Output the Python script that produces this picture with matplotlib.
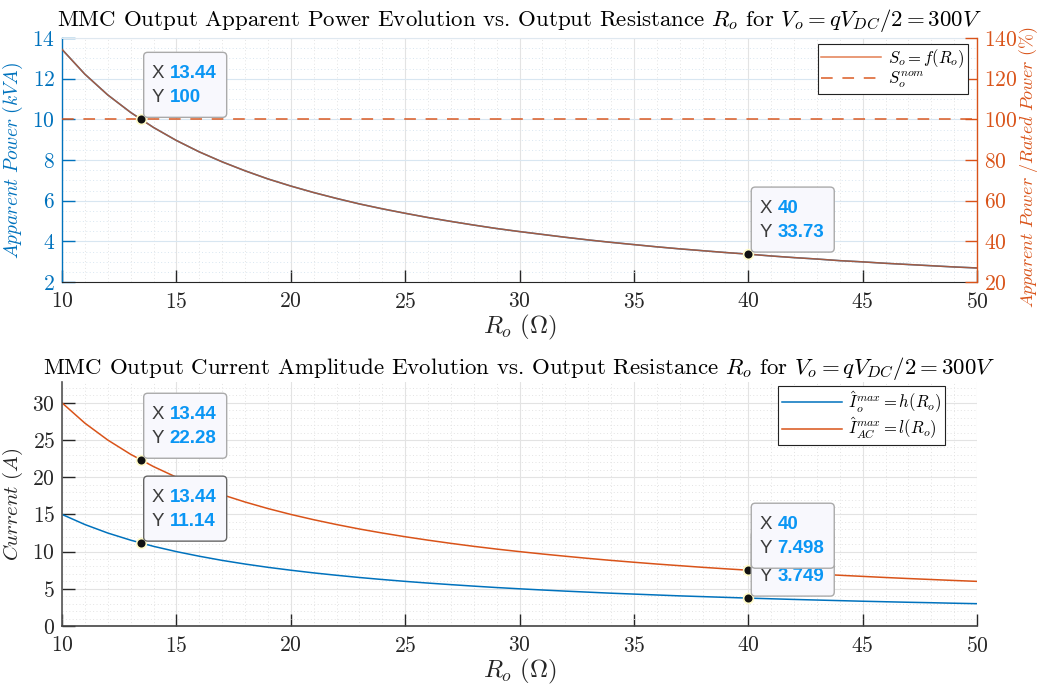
import matplotlib
matplotlib.use("Agg")
import matplotlib.pyplot as plt
from matplotlib.patches import FancyBboxPatch
from matplotlib.ticker import MultipleLocator
from matplotlib.transforms import IdentityTransform
import numpy as np

plt.rcParams['font.family'] = 'serif'
plt.rcParams['font.serif'] = ['cmr10']
plt.rcParams['mathtext.fontset'] = 'cm'
plt.rcParams['axes.formatter.use_mathtext'] = True
plt.rcParams['axes.unicode_minus'] = False

# ---------------- data ----------------
R_o = [10, 11, 12, 13, 14, 15, 16, 17, 18, 19, 20, 21, 22, 23, 24, 25, 26, 27, 28, 29,
       30, 31, 32, 33, 34, 35, 36, 37, 38, 39, 40, 41, 42, 43, 44, 45, 46, 47, 48, 49, 50]

S_kva = [13.44, 12.22, 11.20, 10.34, 9.60, 8.96, 8.40, 7.91, 7.47, 7.07, 6.72, 6.40, 6.11,
         5.84, 5.60, 5.38, 5.17, 4.98, 4.80, 4.63, 4.48, 4.34, 4.20, 4.07, 3.95, 3.84, 3.73,
         3.63, 3.54, 3.45, 3.37, 3.28, 3.20, 3.13, 3.05, 2.99, 2.92, 2.86, 2.80, 2.74, 2.69]

S_pct = [134.4, 122.2, 112.0, 103.4, 96.0, 89.6, 84.0, 79.1, 74.7, 70.7, 67.2, 64.0, 61.1,
         58.4, 56.0, 53.8, 51.7, 49.8, 48.0, 46.3, 44.8, 43.4, 42.0, 40.7, 39.5, 38.4, 37.3,
         36.3, 35.4, 34.5, 33.7, 32.8, 32.0, 31.3, 30.5, 29.9, 29.2, 28.6, 28.0, 27.4, 26.9]

S_nom_pct = 100

I_o = [15.00, 13.64, 12.50, 11.54, 10.71, 10.00, 9.38, 8.82, 8.33, 7.89, 7.50, 7.14, 6.82,
       6.52, 6.25, 6.00, 5.77, 5.56, 5.36, 5.17, 5.00, 4.84, 4.69, 4.55, 4.41, 4.29, 4.17,
       4.05, 3.95, 3.85, 3.75, 3.66, 3.57, 3.49, 3.41, 3.33, 3.26, 3.19, 3.13, 3.06, 3.00]

I_AC = [30.00, 27.27, 25.00, 23.08, 21.43, 20.00, 18.75, 17.65, 16.67, 15.79, 15.00, 14.29,
        13.64, 13.04, 12.50, 12.00, 11.54, 11.11, 10.71, 10.34, 10.00, 9.68, 9.38, 9.09,
        8.82, 8.57, 8.33, 8.11, 7.89, 7.69, 7.50, 7.32, 7.14, 6.98, 6.82, 6.67, 6.52, 6.38,
        6.25, 6.12, 6.00]

# data tips
tip_top_x = [13.44, 40]
tip_top_y = [100, 33.73]
tip_top_lbl = ["100", "33.73"]
tip_bot_x = [13.44, 13.44, 40, 40]
tip_bot_y = [22.28, 11.14, 3.749, 7.498]
tip_bot_lbl = ["22.28", "11.14", "3.749", "7.498"]

title_top = r'MMC Output Apparent Power Evolution vs. Output Resistance $R_o$ for $V_o = qV_{DC}/2 = 300V$'
title_bot = r'MMC Output Current Amplitude Evolution vs. Output Resistance $R_o$ for $V_o = qV_{DC}/2 = 300V$'

BLUE = '#0072BD'
ORANGE = '#D95319'
DARK = '#262626'
TIPBLUE = '#0a96f4'

W, H = 1038, 693
fig = plt.figure(figsize=(W / 100, H / 100), dpi=100)

def frac(l, t, r, b):
    return [l / W, 1 - b / H, (r - l) / W, (b - t) / H]

def style_grid(ax, xcol, ycol):
    ax.set_axisbelow(True)
    ax.xaxis.grid(True, which='major', color=xcol, lw=0.8, alpha=1)
    ax.yaxis.grid(True, which='major', color=ycol, lw=0.8, alpha=1)
    ax.xaxis.grid(True, which='minor', color=xcol, lw=0.7, ls=(0, (1, 2.5)))
    ax.yaxis.grid(True, which='minor', color=ycol, lw=0.7, ls=(0, (1, 2.5)))

TICK_FS = 15.5
TITLE_FS = 16.5

# ---------------- top axes ----------------
ax1 = fig.add_axes(frac(62, 38, 977, 282))
ax1.plot(R_o, S_kva, color=BLUE, lw=1.1)
ax1.set_xlim(10, 50)
ax1.set_ylim(2, 14)
ax1.xaxis.set_major_locator(MultipleLocator(5))
ax1.xaxis.set_minor_locator(MultipleLocator(1))
ax1.yaxis.set_major_locator(MultipleLocator(2))
ax1.yaxis.set_minor_locator(MultipleLocator(0.5))
style_grid(ax1, '#e3e3e3', '#d8e6f1')
ax1.tick_params(axis='both', which='both', direction='in', labelsize=TICK_FS)
ax1.tick_params(axis='x', which='major', length=9, width=1.0, colors=DARK, pad=7)
ax1.tick_params(axis='x', which='minor', length=0)
ax1.tick_params(axis='y', which='major', length=9, width=1.0, colors=BLUE, pad=5)
ax1.tick_params(axis='y', which='minor', length=0)
ax1.spines['left'].set_color(BLUE)
ax1.spines['left'].set_linewidth(1.0)
ax1.spines['bottom'].set_color(DARK)
ax1.spines['top'].set_color('#dfe8f0')
ax1.spines['right'].set_visible(False)
ax1.set_ylabel(r'$Apparent\ Power\ (kVA)$', color=BLUE, fontsize=14, labelpad=5)
ax1.set_xlabel(r'$R_o\ (\Omega)$', fontsize=18, color=DARK, labelpad=1)
ax1.set_title(title_top, fontsize=TITLE_FS, pad=9)

ax2 = ax1.twinx()
ax2.plot(R_o, S_pct, color=ORANGE, lw=1.1, alpha=0.75, label=r'$S_o = f(R_o)$')
ax2.axhline(S_nom_pct, color=ORANGE, lw=1.4, alpha=0.75, dashes=(6, 5), label=r'$S_o^{nom}$')
ax2.set_ylim(20, 140)
ax2.yaxis.set_major_locator(MultipleLocator(20))
ax2.tick_params(axis='y', which='major', direction='in', length=9, width=1.0,
                colors=ORANGE, labelsize=TICK_FS, pad=5)
ax2.spines['right'].set_color(ORANGE)
ax2.spines['right'].set_linewidth(1.0)
for s in ('left', 'top', 'bottom'):
    ax2.spines[s].set_visible(False)
ax2.set_ylabel(r'$Apparent\ Power\ /Rated\ Power\ (\%)$', color=ORANGE, fontsize=13,
               labelpad=3)
ax2.yaxis.set_label_coords(1.0435, 0.47)
leg = ax2.legend(loc='upper right', bbox_to_anchor=(0.990, 0.975), fontsize=12,
                 frameon=True, fancybox=False, edgecolor='#222222', framealpha=1,
                 borderaxespad=0, handlelength=3.6, borderpad=0.2, labelspacing=0.0,
                 handletextpad=0.4)
leg.get_frame().set_linewidth(0.8)
for h in leg.get_lines():
    h.set_alpha(0.75)

# ---------------- bottom axes ----------------
ax3 = fig.add_axes(frac(62, 382, 977, 626))
ax3.plot(R_o, I_o, color=BLUE, lw=1.1, label=r'$\hat{I}_o^{max} = h(R_o)$')
ax3.plot(R_o, I_AC, color=ORANGE, lw=1.1, label=r'$\hat{I}_{AC}^{max} = l(R_o)$')
ax3.set_xlim(10, 50)
ax3.set_ylim(0, 32.8)
ax3.xaxis.set_major_locator(MultipleLocator(5))
ax3.xaxis.set_minor_locator(MultipleLocator(1))
ax3.yaxis.set_major_locator(MultipleLocator(5))
ax3.yaxis.set_minor_locator(MultipleLocator(1))
style_grid(ax3, '#e3e3e3', '#e3e3e3')
ax3.tick_params(axis='both', which='both', direction='in', labelsize=TICK_FS, colors=DARK)
ax3.tick_params(axis='x', which='major', length=9, width=1.0, pad=7)
ax3.tick_params(axis='y', which='major', length=9, width=1.0, pad=5)
ax3.tick_params(axis='both', which='minor', length=0)
ax3.spines['left'].set_color('#555555')
ax3.spines['left'].set_linewidth(1.2)
ax3.spines['bottom'].set_color('#444444')
ax3.spines['bottom'].set_linewidth(1.2)
ax3.spines['top'].set_visible(False)
ax3.spines['right'].set_visible(False)
ax3.set_ylabel(r'$Current\ (A)$', color=DARK, fontsize=15, labelpad=5)
ax3.set_xlabel(r'$R_o\ (\Omega)$', fontsize=18, color=DARK, labelpad=1)
ax3.set_title(title_bot, fontsize=TITLE_FS, pad=5)
leg3 = ax3.legend(loc='upper right', bbox_to_anchor=(0.965, 0.984), fontsize=12,
                  frameon=True, fancybox=False, edgecolor='#222222', framealpha=1,
                  borderaxespad=0, handlelength=3.6, borderpad=0.2, labelspacing=0.05,
                  handletextpad=0.4)
leg3.get_frame().set_linewidth(0.8)

# ---------------- data tips ----------------
def datatip(ax, x, y, lbl, edge='#aaaaaa', z=10, show_x=True):
    px, py = ax.transData.transform((x, y))
    bx, by = px + 3, py + 2
    bw, bh = 83, 65
    box = FancyBboxPatch((bx, by), bw, bh, boxstyle='round,pad=0,rounding_size=4',
                         transform=IdentityTransform(), facecolor='#f8f8fd',
                         edgecolor=edge, lw=1.0, zorder=z)
    fig.add_artist(box)
    tkw = dict(transform=IdentityTransform(), fontsize=13.5, va='center', zorder=z + 0.5,
               family=['Liberation Sans', 'DejaVu Sans'])
    if show_x:
        fig.add_artist(plt.Text(bx + 8, by + bh - 21, 'X', color='#3c3c3c', **tkw))
        fig.add_artist(plt.Text(bx + 26, by + bh - 21, f'{x:g}', color=TIPBLUE,
                                fontweight='bold', **tkw))
    fig.add_artist(plt.Text(bx + 8, by + bh - 45, 'Y', color='#3c3c3c', **tkw))
    fig.add_artist(plt.Text(bx + 26, by + bh - 45, lbl, color=TIPBLUE,
                            fontweight='bold', **tkw))

for x, y, l in zip(tip_top_x, tip_top_y, tip_top_lbl):
    datatip(ax2, x, y, l)
    ax2.plot([x], [y], 'o', ms=7, mfc='#111111', mec='#fffbc8', mew=1.2, zorder=20,
             clip_on=False)
for i, (x, y, l) in enumerate(zip(tip_bot_x, tip_bot_y, tip_bot_lbl)):
    # the 3.749 tip is partly covered by the 7.498 tip: its X line is hidden
    datatip(ax3, x, y, l, edge='#666666' if l == '11.14' else '#aaaaaa', z=10 + i,
            show_x=(l != '3.749'))
    ax3.plot([x], [y], 'o', ms=7, mfc='#111111', mec='#fffbc8', mew=1.2, zorder=20,
             clip_on=False)

fig.savefig('out.png', dpi=100)
